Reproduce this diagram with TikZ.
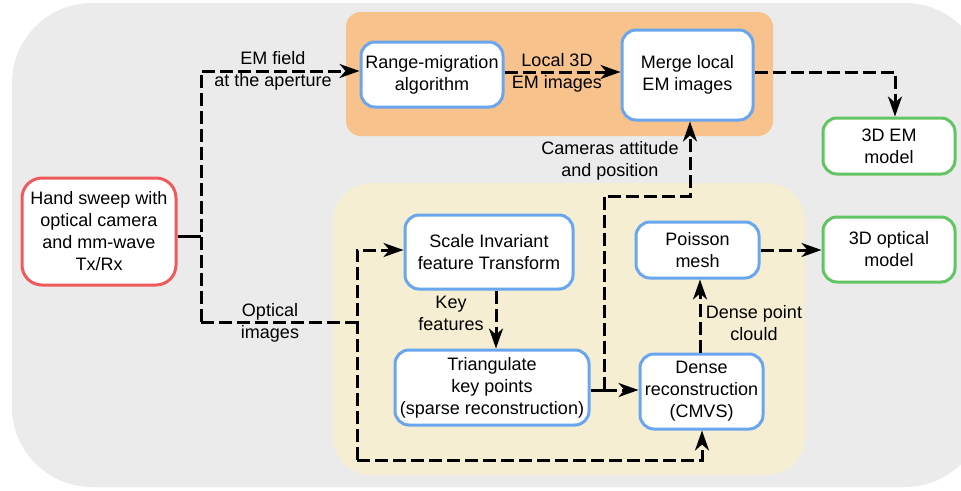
\documentclass[tikz,border=0pt]{standalone}
\usepackage{fontspec}
\setmainfont{Liberation Sans}
\usetikzlibrary{arrows.meta}
\definecolor{bggray}{HTML}{EBEBEB}
\definecolor{orangebg}{HTML}{F7C28B}
\definecolor{beigebg}{HTML}{F6EED3}
\definecolor{boxblue}{HTML}{6AA6EE}
\definecolor{boxred}{HTML}{F05A5A}
\definecolor{boxgreen}{HTML}{62C462}
\begin{document}
\begin{tikzpicture}[x=1pt,y=-1pt,
  font=\fontsize{18}{22}\selectfont,
  box/.style={draw=boxblue, fill=white, line width=3pt, rounded corners=14pt, align=center, inner sep=0pt},
  redbox/.style={box, draw=boxred, rounded corners=20pt},
  greenbox/.style={box, draw=boxgreen},
  dl/.style={line width=3pt, dash pattern=on 13pt off 5pt},
  sl/.style={line width=3pt},
  arr/.style={-{Stealth[length=20pt,width=14pt,inset=6pt]}},
  lbl/.style={align=center, inner sep=0pt}]
\useasboundingbox (0,0) rectangle (961,490);
% backgrounds
\fill[bggray, rounded corners=80pt] (12,3) rectangle (985,487);
\fill[orangebg, rounded corners=15pt] (346,12) rectangle (773,136);
\fill[beigebg, rounded corners=38pt] (333,183) rectangle (805,475);
% nodes
\node[redbox, minimum width=154pt, minimum height=107pt] (hand) at (99,231.5) {Hand sweep with\\optical camera\\and mm-wave\\Tx/Rx};
\node[box, minimum width=142pt, minimum height=65pt] (range) at (432,74.5) {Range-migration\\algorithm};
\node[box, minimum width=131pt, minimum height=90pt] (merge) at (687.5,75) {Merge local\\EM images};
\node[greenbox, minimum width=132pt, minimum height=56pt] (emmodel) at (889,146) {3D EM\\model};
\node[greenbox, minimum width=132pt, minimum height=65pt] (optical) at (889,249.5) {3D optical\\model};
\node[box, minimum width=168pt, minimum height=74pt] (sift) at (489,252) {Scale Invariant\\feature Transform};
\node[box, minimum width=123pt, minimum height=56pt] (poisson) at (697.5,250) {Poisson\\mesh};
\node[box, minimum width=194pt, minimum height=75pt] (tri) at (492,387.5) {Triangulate\\key points\\(sparse reconstruction)};
\node[box, minimum width=123pt, minimum height=75pt] (dense) at (701.5,391.5) {Dense\\reconstruction\\(CMVS)};
% junctions
\coordinate (jem) at (201,71);
\coordinate (jmid) at (201,236);
\coordinate (jopt) at (201,322);
\coordinate (jsplit) at (357,322);
\coordinate (jsift) at (357,250);
\coordinate (jbot) at (357,460);
\coordinate (jdense) at (702,460);
\coordinate (jloc) at (530,72);
\coordinate (jem3) at (895,72);
\coordinate (jkey) at (496,300);
\coordinate (jcam) at (604,390);
\coordinate (jcamt) at (604,196);
\coordinate (jcamr) at (690,196);
\coordinate (jdp) at (700,320);
% connectors
\draw[sl] (hand.east |- jmid) -- (jmid);
\draw[dl,arr] (jopt) -- (jem) -- (range.west |- jem);
\draw[dl] (jopt) -- (jsplit);
\draw[dl,arr] (jbot) -- (jsift) -- (sift.west |- jsift);
\draw[dl,arr] (jbot) -- (jdense) -- (dense.south -| jdense);
\draw[dl,arr] (range.east |- jloc) -- (merge.west |- jloc);
\draw[dl,arr] (merge.east |- jem3) -- (jem3) -- (emmodel.north -| jem3);
\draw[dl,arr] (sift.south -| jkey) -- (tri.north -| jkey);
\draw[sl] (tri.east |- jcam) -- (jcam);
\draw[dl,arr] (jcam) -- (dense.west |- jcam);
\draw[dl,arr] (jcam) -- (jcamt) -- (jcamr) -- (merge.south -| jcamr);
\draw[dl,arr] (dense.north -| jdp) -- (poisson.south -| jdp);
\draw[dl,arr] (poisson.east) -- (optical.west |- poisson.east);
% labels
\node[lbl] (lem) at (273,70.5) {EM field\\at the aperture};
\node[lbl] (lloc) at (557,73) {Local 3D\\EM images};
\node[lbl] (lopt) at (270,323) {Optical\\images};
\node[lbl] (lkey) at (451,313.5) {Key\\features};
\node[lbl] (lcam) at (610,160.5) {Cameras attitude\\and position};
\node[lbl] (ldp) at (754,323) {Dense point\\clould};
\end{tikzpicture}
\end{document}
